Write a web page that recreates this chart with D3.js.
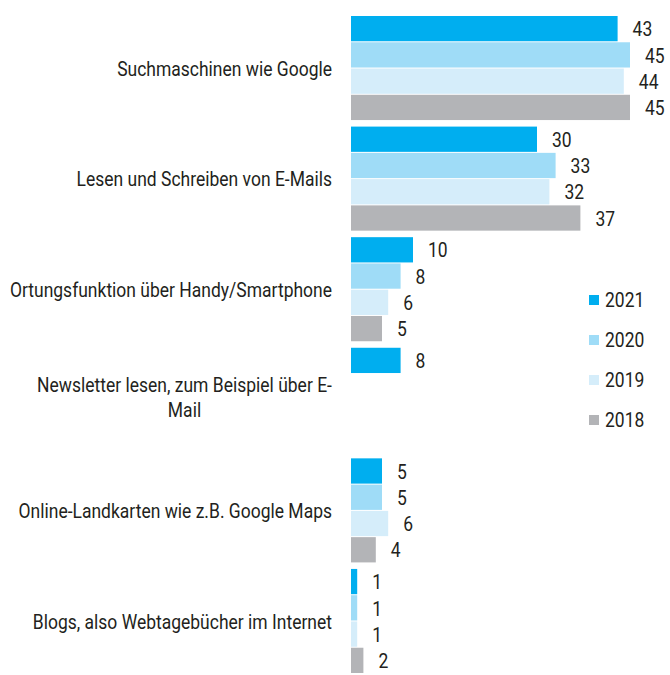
<!DOCTYPE html>
<html>
<head>
<meta charset="utf-8">
<script src="https://cdn.jsdelivr.net/npm/d3@7"></script>
<style>
body { margin: 0; background: #fff; }
svg text { font-family: "Roboto", "Liberation Sans", sans-serif; fill: #231f20; }
</style>
</head>
<body>
<svg id="chart" width="670" height="675"></svg>
<script>
const categories = [
    "Suchmaschinen wie Google",
    "Lesen und Schreiben von E-Mails",
    "Ortungsfunktion über Handy/Smartphone",
    "Newsletter lesen, zum Beispiel über E-Mail",
    "Online-Landkarten wie z.B. Google Maps",
    "Blogs, also Webtagebücher im Internet"
];
const years = ["2021", "2020", "2019", "2018"];
const colors = ["#00aeef", "#9fdcf7", "#d5edfa", "#b3b4b7"];
const values2021 = [43, 30, 10, 8, 5, 1];
const values2020 = [45, 33, 8, null, 5, 1];
const values2019 = [44, 32, 6, null, 6, 1];
const values2018 = [45, 37, 5, null, 4, 2];

const series = [values2021, values2020, values2019, values2018];

const svg = d3.select("#chart");
const x0 = 351;
const fontSize = 20.5;

// narrow look: squeeze text horizontally
const probe = svg.append("text").attr("font-size", fontSize).text("Suchmaschinen wie Google");
const sx = 215 / probe.node().getComputedTextLength();
probe.remove();

function addText(parent, px, py, str, anchor) {
    return parent.append("text")
        .attr("transform", `translate(${px},${py}) scale(${sx},1)`)
        .attr("font-size", fontSize)
        .attr("text-anchor", anchor || "start")
        .attr("dy", "0.35em")
        .text(str);
}

const x = d3.scaleLinear().domain([0, 45]).range([x0, 630]);
const y = d3.scaleBand().domain(categories).range([16, 674]).paddingInner(0.05).paddingOuter(0);
const yInner = d3.scaleBand().domain(years).range([0, y.bandwidth()]);

const rows = categories.map((c, i) => ({
    name: c,
    vals: years.map((yr, j) => ({ year: yr, v: series[j][i], color: colors[j] }))
}));

const groups = svg.append("g").selectAll("g").data(rows).enter().append("g")
    .attr("transform", d => `translate(0,${y(d.name)})`);

const bars = groups.selectAll("g.bar").data(d => d.vals.filter(e => e.v !== null))
    .enter().append("g").attr("class", "bar");

bars.append("rect")
    .attr("x", x0)
    .attr("y", d => yInner(d.year))
    .attr("width", d => x(d.v) - x0)
    .attr("height", yInner.bandwidth() - 1)
    .attr("fill", d => d.color);

bars.each(function (d) {
    addText(d3.select(this), x(d.v) + 15, yInner(d.year) + yInner.bandwidth() / 2, d.v);
});

// category labels, wrapped on spaces / hyphens when too long
const labelRight = 332;
const maxW = 328;
groups.each(function (d) {
    const g = d3.select(this);
    const cy = y.bandwidth() / 2;
    const t = addText(g, labelRight, cy, d.name, "end");
    if (t.node().getComputedTextLength() * sx <= maxW) return;
    t.remove();
    const words = d.name.match(/[^\s-]+-?\s*/g);
    const lines = [];
    let cur = "";
    const tmp = g.append("text").attr("font-size", fontSize);
    words.forEach(w => {
        tmp.text((cur + w).trim());
        if (cur && tmp.node().getComputedTextLength() * sx > 310) {
            lines.push(cur.trim());
            cur = w;
        } else cur += w;
    });
    lines.push(cur.trim());
    tmp.text(lines[0]);
    const w0 = tmp.node().getComputedTextLength() * sx;
    tmp.remove();
    const lh = 25;
    const cx = labelRight - w0 / 2;
    lines.forEach((l, k) => {
        addText(g, cx, cy - 3 + (k - (lines.length - 1) / 2) * lh, l, "middle");
    });
});

// legend
const legend = svg.append("g").selectAll("g").data(years).enter().append("g")
    .attr("transform", (d, i) => `translate(589,${300 + i * 40})`);
legend.append("rect").attr("x", 0).attr("y", -5).attr("width", 10).attr("height", 10)
    .attr("fill", (d, i) => colors[i]);
legend.each(function (d) {
    addText(d3.select(this), 16, 0, d);
});
</script>
</body>
</html>
